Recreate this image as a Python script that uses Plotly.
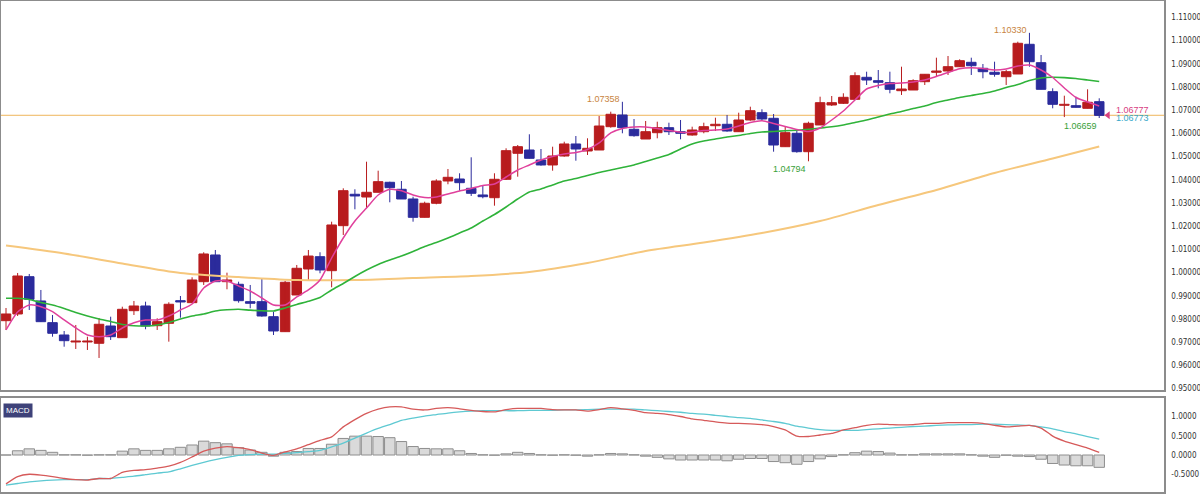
import plotly.graph_objects as go

# ---------------- data ----------------
opens = [0.97924, 0.98213, 0.99820, 0.98773, 0.97838, 0.97307, 0.97006, 0.97006, 0.96950, 0.97695,
         0.97191, 0.98355, 0.98557, 0.97708, 0.97812, 0.98786, 0.98700, 0.99605, 1.00756, 0.99605,
         0.99493, 0.98743, 0.98743, 0.98096, 0.97450, 0.99031, 1.00152, 1.00682, 1.00079, 1.02019,
         1.03372, 1.03255, 1.03458, 1.03889, 1.03587, 1.03169, 1.02380, 1.02984, 1.03945, 1.04031,
         1.03630, 1.03342, 1.03225, 1.04018, 1.05139, 1.05281, 1.04850, 1.04635, 1.05022, 1.05540,
         1.05238, 1.05281, 1.06285, 1.06790, 1.06173, 1.05755, 1.06027, 1.06242, 1.06070, 1.05927,
         1.06070, 1.06328, 1.06389, 1.06070, 1.06574, 1.06889, 1.06647, 1.05423, 1.06001, 1.05208,
         1.06359, 1.07221, 1.07294, 1.07466, 1.08414, 1.08268, 1.08182, 1.07837, 1.07867, 1.08225,
         1.08630, 1.08686, 1.08871, 1.09061, 1.08802, 1.08630, 1.08440, 1.08557, 1.09837, 1.09044,
         1.07794, 1.07208, 1.07190, 1.07078, 1.07363]

highs = [0.98471, 0.99980, 0.99937, 0.99247, 0.98170, 0.97480, 0.97739, 0.97234, 0.98040, 0.98096,
         0.98527, 0.98773, 0.98743, 0.98027, 0.98717, 0.98988, 0.99794, 1.00872, 1.00971, 0.99993,
         0.99605, 0.99463, 0.99751, 0.98312, 0.99635, 1.00325, 1.00971, 1.00872, 1.02191, 1.03630,
         1.03587, 1.04777, 1.04389, 1.03915, 1.03945, 1.03268, 1.03053, 1.04018, 1.04462, 1.04277,
         1.04966, 1.03729, 1.04277, 1.05354, 1.05496, 1.05958, 1.05324, 1.05423, 1.05639, 1.05884,
         1.05785, 1.06746, 1.06932, 1.07358, 1.06617, 1.06531, 1.06501, 1.06458, 1.06574, 1.06285,
         1.06458, 1.06673, 1.06790, 1.06889, 1.07147, 1.07035, 1.06833, 1.06285, 1.06143, 1.06501,
         1.07578, 1.07608, 1.07725, 1.08630, 1.08656, 1.08729, 1.08656, 1.08871, 1.08328, 1.08544,
         1.09259, 1.09332, 1.09190, 1.09259, 1.08988, 1.09087, 1.08729, 1.09949, 1.10330, 1.09376,
         1.07940, 1.07621, 1.07578, 1.07897, 1.07509]

lows = [0.97523, 0.98126, 0.98385, 0.97868, 0.97234, 0.96803, 0.96704, 0.96661, 0.96316, 0.97092,
        0.97191, 0.98170, 0.97553, 0.97523, 0.97019, 0.98053, 0.98700, 0.99463, 0.99605, 0.99277,
        0.98700, 0.98458, 0.98096, 0.97307, 0.97450, 0.99031, 0.99678, 0.99967, 0.99363, 1.01618,
        1.02725, 1.02768, 1.03458, 1.03027, 1.03169, 1.02191, 1.02380, 1.02941, 1.03803, 1.03527,
        1.03299, 1.03199, 1.02880, 1.03988, 1.04130, 1.04923, 1.04604, 1.04389, 1.04992, 1.04819,
        1.05066, 1.05281, 1.06242, 1.06001, 1.05854, 1.05755, 1.05785, 1.05927, 1.05742, 1.05897,
        1.06001, 1.06100, 1.06070, 1.06070, 1.06544, 1.06574, 1.05208, 1.05423, 1.05165, 1.04794,
        1.06359, 1.07177, 1.07264, 1.07436, 1.08083, 1.07940, 1.07725, 1.07652, 1.07867, 1.08083,
        1.08470, 1.08514, 1.08858, 1.08514, 1.08371, 1.08440, 1.08083, 1.08557, 1.08871, 1.07897,
        1.07078, 1.06700, 1.07113, 1.07078, 1.06659]

closes = [0.98213, 0.99850, 0.98846, 0.97881, 0.97381, 0.97062, 0.97049, 0.97049, 0.97769, 0.97234,
          0.98415, 0.98557, 0.97695, 0.97881, 0.98631, 0.98730, 0.99678, 1.00799, 0.99605, 0.99678,
          0.98786, 0.98674, 0.98126, 0.97480, 0.99579, 1.00182, 1.00710, 1.00109, 1.02049, 1.03527,
          1.03299, 1.03458, 1.03915, 1.03656, 1.03169, 1.02380, 1.02984, 1.03945, 1.04104, 1.03872,
          1.03415, 1.03268, 1.04018, 1.05251, 1.05423, 1.04923, 1.04635, 1.05022, 1.05540, 1.05324,
          1.05354, 1.06315, 1.06820, 1.06242, 1.05897, 1.06070, 1.06242, 1.06070, 1.06001, 1.06143,
          1.06285, 1.06389, 1.06100, 1.06574, 1.06975, 1.06617, 1.05496, 1.06027, 1.05208, 1.06432,
          1.07320, 1.07320, 1.07552, 1.08483, 1.08298, 1.08199, 1.07897, 1.07910, 1.08268, 1.08544,
          1.08686, 1.08871, 1.09130, 1.08914, 1.08656, 1.08544, 1.08656, 1.09880, 1.09087, 1.07897,
          1.07250, 1.07250, 1.07121, 1.07337, 1.06773]

ma_fast = [0.97523, 0.98299, 0.98600, 0.98527, 0.98312, 0.97954, 0.97609, 0.97307, 0.97234, 0.97307,
           0.97609, 0.97838, 0.97954, 0.97954, 0.98126, 0.98385, 0.98644, 0.99333, 0.99635, 0.99635,
           0.99420, 0.99204, 0.98902, 0.98600, 0.98600, 0.98945, 0.99247, 0.99678, 1.00626, 1.01488,
           1.02221, 1.02781, 1.03341, 1.03587, 1.03527, 1.03341, 1.03234, 1.03255, 1.03385, 1.03514,
           1.03622, 1.03751, 1.03816, 1.04117, 1.04419, 1.04635, 1.04850, 1.05001, 1.05109, 1.05173,
           1.05303, 1.05583, 1.06015, 1.06208, 1.06273, 1.06273, 1.06208, 1.06122, 1.06044, 1.06044,
           1.06122, 1.06143, 1.06186, 1.06315, 1.06466, 1.06544, 1.06423, 1.06294, 1.06165, 1.06078,
           1.06229, 1.06574, 1.06962, 1.07436, 1.07910, 1.08061, 1.08147, 1.08169, 1.08212, 1.08298,
           1.08449, 1.08621, 1.08785, 1.08828, 1.08794, 1.08729, 1.08772, 1.08901, 1.08944, 1.08729,
           1.08406, 1.07953, 1.07544, 1.07350, 1.07177]

ma_mid = [0.98889, 0.98889, 0.98838, 0.98709, 0.98601, 0.98450, 0.98277, 0.98126, 0.97997, 0.97890,
          0.97760, 0.97708, 0.97695, 0.97738, 0.97846, 0.97997, 0.98126, 0.98213, 0.98342, 0.98394,
          0.98416, 0.98377, 0.98351, 0.98342, 0.98471, 0.98622, 0.98760, 0.98924, 0.99247, 0.99526,
          0.99828, 1.00106, 1.00346, 1.00540, 1.00712, 1.00906, 1.01122, 1.01294, 1.01488, 1.01703,
          1.01919, 1.02221, 1.02501, 1.02824, 1.03169, 1.03471, 1.03600, 1.03773, 1.03945, 1.04053,
          1.04182, 1.04311, 1.04419, 1.04527, 1.04635, 1.04785, 1.04936, 1.05087, 1.05324, 1.05540,
          1.05669, 1.05755, 1.05841, 1.05906, 1.05992, 1.06057, 1.06079, 1.06109, 1.06135, 1.06174,
          1.06230, 1.06281, 1.06359, 1.06466, 1.06574, 1.06703, 1.06832, 1.06940, 1.07070, 1.07178,
          1.07328, 1.07436, 1.07544, 1.07630, 1.07717, 1.07825, 1.07975, 1.08104, 1.08276, 1.08384,
          1.08414, 1.08401, 1.08363, 1.08298, 1.08233]

ma_slow_idx = [0, 5, 10, 15, 20, 25, 30, 35, 40, 45, 50, 55, 60, 65, 70, 75, 80, 85, 90, 94]
ma_slow = [1.01165, 1.00820, 1.00389, 0.99980, 0.99807, 0.99678, 0.99678, 0.99764, 0.99850, 1.00023,
           1.00411, 1.00928, 1.01294, 1.01704, 1.02221, 1.02911, 1.03557, 1.04290, 1.04915, 1.05432]

macd = [-0.75, -0.56, -0.50, -0.52, -0.56, -0.61, -0.64, -0.65, -0.61, -0.61,
        -0.45, -0.40, -0.38, -0.34, -0.29, -0.19, -0.05, 0.10, 0.18, 0.22,
        0.19, 0.14, 0.05, -0.01, 0.08, 0.16, 0.27, 0.38, 0.47, 0.73,
        0.92, 1.08, 1.19, 1.25, 1.25, 1.19, 1.17, 1.21, 1.23, 1.20,
        1.16, 1.13, 1.12, 1.18, 1.21, 1.21, 1.21, 1.18, 1.17, 1.17,
        1.14, 1.18, 1.23, 1.20, 1.16, 1.10, 1.08, 1.05, 1.00, 0.94,
        0.90, 0.86, 0.83, 0.82, 0.81, 0.79, 0.74, 0.65, 0.49, 0.48,
        0.52, 0.56, 0.65, 0.71, 0.77, 0.80, 0.79, 0.78, 0.79, 0.82,
        0.82, 0.84, 0.84, 0.84, 0.82, 0.77, 0.73, 0.75, 0.77, 0.70,
        0.49, 0.36, 0.27, 0.18, 0.07]

signal = [-0.78, -0.74, -0.70, -0.67, -0.65, -0.64, -0.64, -0.64, -0.61, -0.61,
          -0.58, -0.55, -0.51, -0.47, -0.44, -0.36, -0.27, -0.19, -0.12, -0.06,
          -0.01, 0.01, 0.02, 0.02, 0.04, 0.06, 0.09, 0.12, 0.21, 0.31,
          0.44, 0.57, 0.69, 0.79, 0.90, 0.96, 1.01, 1.05, 1.09, 1.12,
          1.14, 1.15, 1.15, 1.15, 1.15, 1.16, 1.16, 1.16, 1.17, 1.17,
          1.18, 1.19, 1.19, 1.19, 1.19, 1.17, 1.15, 1.13, 1.11, 1.08,
          1.06, 1.03, 1.00, 0.97, 0.95, 0.91, 0.87, 0.82, 0.75, 0.70,
          0.66, 0.64, 0.64, 0.64, 0.66, 0.68, 0.70, 0.72, 0.74, 0.75,
          0.77, 0.78, 0.79, 0.79, 0.80, 0.80, 0.79, 0.78, 0.77, 0.73,
          0.68, 0.61, 0.55, 0.48, 0.41]

hist = [0.0, 0.11, 0.16, 0.12, 0.07, 0.005, 0.005, -0.005, 0.005, 0.005,
        0.10, 0.16, 0.12, 0.12, 0.16, 0.20, 0.26, 0.36, 0.32, 0.29,
        0.19, 0.13, 0.07, -0.03, 0.07, 0.09, 0.17, 0.17, 0.28, 0.43,
        0.49, 0.49, 0.48, 0.45, 0.35, 0.22, 0.17, 0.16, 0.16, 0.11,
        0.04, 0.005, -0.005, 0.03, 0.07, 0.04, 0.005, -0.005, 0.005, -0.005,
        -0.03, 0.005, 0.04, 0.03, 0.005, -0.03, -0.06, -0.10, -0.13, -0.13,
        -0.13, -0.13, -0.15, -0.11, -0.09, -0.09, -0.17, -0.20, -0.24, -0.17,
        -0.10, -0.04, 0.005, 0.06, 0.10, 0.09, 0.05, 0.005, 0.005, 0.03,
        0.03, 0.03, 0.03, 0.005, -0.03, -0.06, -0.005, -0.03, -0.04, -0.11,
        -0.22, -0.26, -0.28, -0.28, -0.32]

macd_tick_vals = [-0.5, 0.0, 0.5, 1.0]
macd_tick_text = ["-0.5000", "0.0000", "0.5000", "1.0000"]

high_marks = [(53, "1.07358"), (88, "1.10330")]
low_marks = [(69, "1.04794"), (94, "1.06659")]
price_line = 1.06777
last_labels = [("1.06777", 1.06777), ("1.06773", 1.06773)]

# ---------------- styling ----------------
UP = "#b81c1e"
DOWN = "#2b2b9c"
FRAME = "#8c8c8c"
n = len(opens)
idx = list(range(n))

fig = go.Figure()

# wicks
for up, col in ((True, UP), (False, DOWN)):
    xs, ys = [], []
    for i in idx:
        if (closes[i] >= opens[i]) == up:
            xs += [i, i, None]
            ys += [lows[i], highs[i], None]
    fig.add_trace(go.Scatter(x=xs, y=ys, mode="lines", line=dict(color=col, width=1),
                             hoverinfo="skip", showlegend=False, xaxis="x", yaxis="y"))

# bodies
body_cols = [UP if c >= o else DOWN for o, c in zip(opens, closes)]
fig.add_trace(go.Bar(x=idx, y=[abs(c - o) for o, c in zip(opens, closes)],
                     base=[min(o, c) for o, c in zip(opens, closes)],
                     width=0.82, marker=dict(color=body_cols, line=dict(color=body_cols, width=1)),
                     showlegend=False, hoverinfo="skip", xaxis="x", yaxis="y"))

# moving averages
fig.add_trace(go.Scatter(x=ma_slow_idx, y=ma_slow, mode="lines",
                         line=dict(color="#f6c77c", width=2, shape="spline", smoothing=0.8),
                         showlegend=False, hoverinfo="skip", xaxis="x", yaxis="y"))
fig.add_trace(go.Scatter(x=idx, y=ma_mid, mode="lines",
                         line=dict(color="#2fb33a", width=1.6, shape="spline", smoothing=0.6),
                         showlegend=False, hoverinfo="skip", xaxis="x", yaxis="y"))
fig.add_trace(go.Scatter(x=idx, y=ma_fast, mode="lines",
                         line=dict(color="#e0409c", width=1.5, shape="spline", smoothing=0.6),
                         showlegend=False, hoverinfo="skip", xaxis="x", yaxis="y"))

# last price marker
fig.add_trace(go.Scatter(x=[idx[-1] + 0.75], y=[price_line], mode="markers",
                         marker=dict(symbol="triangle-left", size=7, color="#d8407f"),
                         showlegend=False, hoverinfo="skip", xaxis="x", yaxis="y"))

# MACD panel
fig.add_trace(go.Bar(x=idx, y=hist, width=0.9,
                     marker=dict(color="#dadada", line=dict(color="#8e8e8e", width=1)),
                     showlegend=False, hoverinfo="skip", xaxis="x2", yaxis="y2"))
fig.add_trace(go.Scatter(x=idx, y=signal, mode="lines",
                         line=dict(color="#5ec9d2", width=1.3, shape="spline", smoothing=0.6),
                         showlegend=False, hoverinfo="skip", xaxis="x2", yaxis="y2"))
fig.add_trace(go.Scatter(x=idx, y=macd, mode="lines",
                         line=dict(color="#d65a5a", width=1.3, shape="spline", smoothing=0.6),
                         showlegend=False, hoverinfo="skip", xaxis="x2", yaxis="y2"))

fig.add_shape(type="line", xref="x domain", yref="y", x0=0, x1=1, y0=price_line, y1=price_line,
              line=dict(color="#efb55a", width=1), layer="below")

ann = []
lab_font = dict(family="Liberation Sans, Arial, sans-serif", size=9)
for i, t in high_marks:
    ann.append(dict(x=i, y=highs[i], xref="x", yref="y", text=t, showarrow=False,
                    xanchor="right", yanchor="middle", yshift=3,
                    font=dict(color="#c8843e", **lab_font)))
for i, t in low_marks:
    ann.append(dict(x=i, y=lows[i], xref="x", yref="y", text=t, showarrow=False,
                    xanchor="right", yanchor="middle", yshift=-8,
                    font=dict(color="#38a038", **lab_font)))
ann.append(dict(x=idx[-1] + 1.3, y=last_labels[0][1], xref="x", yref="y", text=last_labels[0][0],
                showarrow=False, xanchor="left", yanchor="middle", yshift=5,
                font=dict(color="#d8407f", **lab_font)))
ann.append(dict(x=idx[-1] + 1.3, y=last_labels[1][1], xref="x", yref="y", text=last_labels[1][0],
                showarrow=False, xanchor="left", yanchor="middle", yshift=-3,
                font=dict(color="#35a6c9", **lab_font)))
ann.append(dict(x=0.002, y=0.185, xref="paper", yref="paper", text="MACD", showarrow=False,
                xanchor="left", yanchor="top", bgcolor="#3e4279", borderpad=2,
                font=dict(color="white", family="Liberation Sans, Arial, sans-serif", size=8)))

tick_font = dict(family="Liberation Sans Narrow, DejaVu Sans Condensed, Liberation Sans, Arial",
                 size=8, color="#333333")
xr = [-0.43, 99.57]
common_x = dict(range=xr, showticklabels=False, showgrid=False, zeroline=False, automargin=False,
                showline=True, mirror=True, linecolor=FRAME, linewidth=1.5, ticks="")
fig.update_layout(
    width=1200, height=494,
    margin=dict(l=1, r=36, t=1, b=0, autoexpand=False),
    paper_bgcolor="white", plot_bgcolor="white",
    barmode="overlay", hovermode=False, showlegend=False,
    xaxis=dict(domain=[0, 1], anchor="y", **common_x),
    xaxis2=dict(domain=[0, 1], anchor="y2", **common_x),
    yaxis=dict(domain=[0.2110, 1.0], range=[0.94937, 1.11703], side="right", anchor="x",
               tick0=0.95, dtick=0.01, tickformat=".5f", showgrid=False, zeroline=False,
               showline=True, mirror=True, linecolor=FRAME, linewidth=1.5, ticks="",
               automargin=False, ticklabelstandoff=4, tickfont=tick_font),
    yaxis2=dict(domain=[0.0041, 0.1947], range=[-0.96, 1.48], side="right", anchor="x2",
                tickmode="array", tickvals=macd_tick_vals, ticktext=macd_tick_text,
                showgrid=False, zeroline=False,
                showline=True, mirror=True, linecolor=FRAME, linewidth=1.5, ticks="",
                automargin=False, ticklabelstandoff=4, tickfont=tick_font),
    annotations=ann,
)

fig.write_html("out.html", config={"displayModeBar": False},
               post_script="document.body.style.margin='0';")
